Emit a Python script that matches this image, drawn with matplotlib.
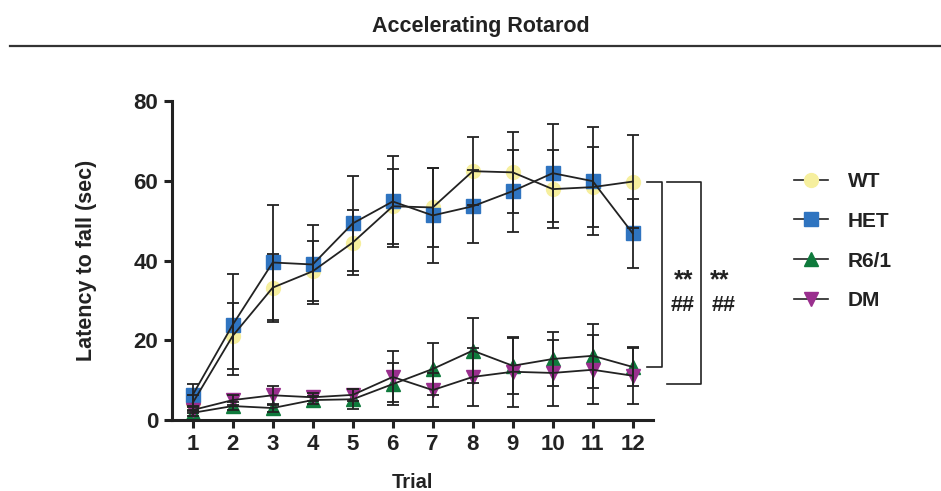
import numpy as np
import matplotlib
matplotlib.use("Agg")
import matplotlib.pyplot as plt
from matplotlib.lines import Line2D

plt.rcParams['font.family'] = ['Liberation Sans', 'DejaVu Sans']
plt.rcParams['font.weight'] = 'bold'

# data (mean +/- SEM)
trials = np.arange(1, 13)
groups = ["WT", "HET", "R6/1", "DM"]

wt_mean = [4.3, 21.1, 33.2, 37.3, 44.5, 53.6, 53.3, 62.4, 62.1, 57.9, 58.4, 59.8]
wt_sem = [2.0, 8.3, 8.5, 7.5, 8.1, 9.4, 10.0, 8.6, 10.2, 9.8, 10.0, 11.6]

het_mean = [6.3, 23.9, 39.5, 39.0, 49.3, 54.8, 51.3, 53.6, 57.4, 61.9, 59.9, 46.8]
het_sem = [2.7, 12.6, 14.5, 9.8, 12.0, 11.4, 12.0, 9.1, 10.3, 12.3, 13.5, 8.7]

r61_mean = [1.8, 3.5, 3.0, 5.0, 5.2, 9.0, 12.8, 17.4, 13.6, 15.3, 16.1, 13.3]
r61_sem = [0.8, 1.0, 1.0, 1.0, 2.5, 5.2, 6.6, 8.2, 7.0, 6.8, 8.1, 4.8]

dm_mean = [2.5, 5.0, 6.2, 5.7, 6.3, 10.8, 7.5, 10.8, 12.1, 11.8, 12.6, 11.1]
dm_sem = [0.8, 1.2, 2.4, 1.0, 1.5, 6.4, 4.2, 7.3, 8.8, 8.3, 8.6, 7.1]

means = [wt_mean, het_mean, r61_mean, dm_mean]
sems = [wt_sem, het_sem, r61_sem, dm_sem]
colors = ["#F6EF9E", "#2F74C0", "#0F7A3C", "#9A2F8E"]
markers = ["o", "s", "^", "v"]
msizes = [10, 9.5, 10, 10]
ink = "#222222"

fig = plt.figure(figsize=(9.41, 4.91), dpi=100)
ax = fig.add_axes([0.1828, 0.1446, 0.5112, 0.6497])

for m, s, c, mk, ms in zip(means, sems, colors, markers, msizes):
    ax.plot(trials, m, linestyle="none", marker=mk, markersize=ms,
            markerfacecolor=c, markeredgecolor=c, zorder=2)
    ax.errorbar(trials, m, yerr=s, color=ink, linewidth=1.3,
                elinewidth=1.3, capsize=4.6, capthick=1.3, zorder=3)

ax.set_xlim(0.4825, 12.5075)
ax.set_ylim(0, 80)
ax.set_xticks(trials)
ax.set_yticks([0, 20, 40, 60, 80])
for side in ["top", "right"]:
    ax.spines[side].set_visible(False)
for side in ["left", "bottom"]:
    ax.spines[side].set_linewidth(2.2)
    ax.spines[side].set_color(ink)
ax.tick_params(axis="both", length=6, width=2.2, color=ink,
               labelsize=16, labelcolor=ink, pad=4)
for lab in ax.get_xticklabels() + ax.get_yticklabels():
    lab.set_fontweight("bold")
ax.set_xlabel("Trial", fontsize=14.5, fontweight="bold", color=ink, labelpad=13)
ax.set_ylabel("Latency to fall (sec)", fontsize=15.5, fontweight="bold", color=ink, labelpad=26)

# significance brackets
bk = dict(color=ink, linewidth=1.2, clip_on=False)
ax.plot([12.36, 12.73, 12.73, 12.36], [wt_mean[-1], wt_mean[-1], r61_mean[-1], r61_mean[-1]], **bk)
ax.plot([12.86, 13.71, 13.71, 12.86], [wt_mean[-1], wt_mean[-1], 9.0, 9.0], **bk)
st = dict(ha="center", va="center", fontsize=18, fontweight="bold", color=ink)
hs = dict(ha="center", va="center", fontsize=15.5, fontweight="bold", color=ink)
ax.text(13.27, 35.0, "**", **st)
ax.text(13.25, 28.8, "##", **hs)
ax.text(14.17, 35.0, "**", **st)
ax.text(14.27, 28.8, "##", **hs)

handles = [Line2D([], [], color=ink, linewidth=1.2, marker=mk, markersize=ms,
                  markerfacecolor=c, markeredgecolor=c)
           for c, mk, ms in zip(colors, markers, msizes)]
leg = fig.legend(handles, groups, loc="upper left", bbox_to_anchor=(0.835, 0.667),
                 frameon=False, fontsize=15, handlelength=1.63, labelspacing=1.0,
                 handletextpad=0.96, borderaxespad=0)
for t in leg.get_texts():
    t.set_fontweight("bold")
    t.set_color(ink)

fig.text(0.511, 0.947, "Accelerating Rotarod", ha="center", va="center",
         fontsize=15.5, fontweight="bold", color=ink)
fig.add_artist(Line2D([0.011, 1.0], [0.906, 0.906], color="#333333", linewidth=1.6,
                      transform=fig.transFigure))

fig.savefig("out.png", dpi=100)
